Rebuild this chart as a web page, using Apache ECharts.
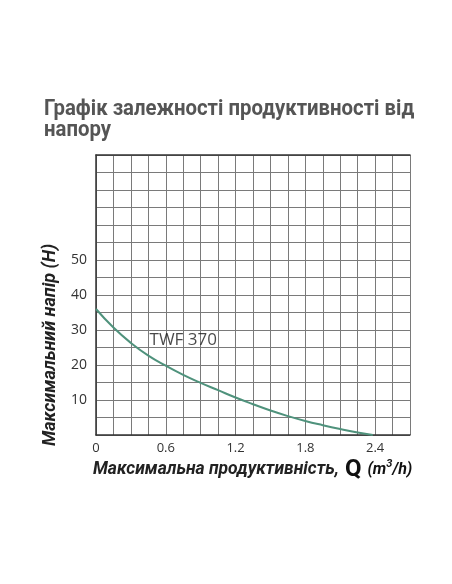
<!DOCTYPE html>
<html>

<head>
    <meta charset="utf-8">
    <script src="https://cdn.jsdelivr.net/npm/echarts@6/dist/echarts.min.js"></script>
    <style>
        html, body { margin: 0; padding: 0; background: #fff; }
        #main { width: 452px; height: 584px; }
    </style>
</head>

<body>
    <div id="main"></div>
    <script type="text/javascript">

        // витрата Q (m3/h) та напір H (м)
        var flowQ = [0, 0.15, 0.3, 0.45, 0.6, 0.75, 0.9, 1.05, 1.2, 1.35, 1.5, 1.65, 1.8, 1.95, 2.1, 2.25, 2.38];
        var headH = [36, 30.7, 26.3, 22.7, 19.8, 17.2, 14.9, 12.8, 10.7, 8.8, 7.0, 5.4, 4.0, 2.8, 1.7, 0.7, 0];
        var xTickLabels = ['0', '0.6', '1.2', '1.8', '2.4'];
        var yTickLabels = ['10', '20', '30', '40', '50'];
        var curveName = 'TWF 370';
        var curveLabelAt = [0.75, 27];

        var chartDom = document.getElementById('main');
        var myChart = echarts.init(chartDom);

        var lineData = flowQ.map(function (q, i) { return [q, headH[i]]; });

        var option = {
            backgroundColor: '#fff',
            animation: false,
            textStyle: { fontFamily: 'Open Sans' },
            grid: { left: 96, right: 42, top: 155, bottom: 149 },
            graphic: [
                {
                    type: 'text', x: 44, y: 99, scaleX: 0.925,
                    style: {
                        text: 'Графік залежності продуктивності від\nнапору',
                        fontFamily: 'Roboto', fontWeight: 'bold', fontSize: 22,
                        lineHeight: 21, fill: '#555'
                    }
                },
                {
                    type: 'text', left: 93, top: 458,
                    style: {
                        rich: {
                            a: { fontFamily: 'Roboto', fontStyle: 'italic', fontWeight: 'bold', fontSize: 17.5, fill: '#222' },
                            q: { fontFamily: 'Roboto', fontWeight: 'bold', fontSize: 24, fill: '#111' },
                            s: { fontFamily: 'Roboto', fontStyle: 'italic', fontWeight: 'bold', fontSize: 11, fill: '#111', padding: [0, 0, 12, 0] },
                            u: { fontFamily: 'Roboto', fontStyle: 'italic', fontWeight: 'bold', fontSize: 16, fill: '#111' }
                        },
                        text: '{a|Максимальна продуктивність,}{q| Q }{u|(m}{s|3}{u|/h)}'
                    }
                },
                {
                    type: 'text', x: 50, y: 345, rotation: Math.PI / 2,
                    style: {
                        text: 'Максимальний напір (H)',
                        fontFamily: 'Roboto', fontStyle: 'italic', fontWeight: 'bold', fontSize: 18,
                        fill: '#222', align: 'center', verticalAlign: 'middle'
                    }
                }
            ],
            xAxis: [
                {
                    type: 'value', min: 0, max: 2.7, interval: 0.15,
                    axisLine: { show: true, lineStyle: { color: '#333', width: 1.5 } },
                    axisTick: { show: false },
                    axisLabel: {
                        color: '#333', fontSize: 13, margin: 7,
                        formatter: function (v) {
                            var k = Math.round(v / 0.15);
                            return k % 4 === 0 && xTickLabels[k / 4] ? xTickLabels[k / 4] : '';
                        }
                    },
                    splitLine: { show: true, lineStyle: { color: '#7a7a7a', width: 1 } }
                },
                {
                    type: 'value', position: 'top', min: 0, max: 2.7,
                    axisLine: { show: true, lineStyle: { color: '#333', width: 1.5 } },
                    axisTick: { show: false }, axisLabel: { show: false }, splitLine: { show: false }
                }
            ],
            yAxis: {
                type: 'value', min: 0, max: 80, interval: 5,
                axisLine: { show: true, lineStyle: { color: '#333', width: 1.5 } },
                axisTick: { show: false },
                axisLabel: {
                    color: '#333', fontSize: 14, margin: 9,
                    formatter: function (v) {
                        var k = Math.round(v / 10);
                        return v % 10 === 0 && yTickLabels[k - 1] ? yTickLabels[k - 1] : '';
                    }
                },
                splitLine: { show: true, lineStyle: { color: '#7a7a7a', width: 1 } }
            },
            series: [
                {
                    type: 'line', data: lineData, smooth: 0.5, showSymbol: false,
                    lineStyle: { color: '#4f927c', width: 2 }
                },
                {
                    type: 'scatter', data: [curveLabelAt], symbolSize: 0,
                    label: {
                        show: true, position: 'inside', formatter: curveName,
                        color: '#1a1a1a', fontSize: 17, fontFamily: 'Open Sans'
                    }
                }
            ]
        };

        myChart.setOption(option);
    </script>
</body>

</html>
